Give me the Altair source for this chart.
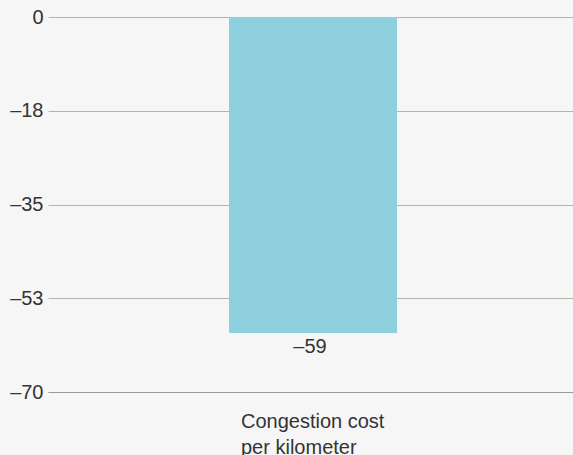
import altair as alt
import pandas as pd

# Chart data
categories = ["Congestion cost\nper kilometer"]
values = [-59]
tick_values = [0, -17.5, -35, -52.5, -70]

df = pd.DataFrame({"category": categories, "value": values})

FONT = "Liberation Sans"
BAR_COLOR = "#8fd0de"
TEXT_COLOR = "#333333"

x_enc = alt.X(
    "category:N",
    title=None,
    scale=alt.Scale(paddingInner=0.0588, paddingOuter=1, align=0.507),
    axis=alt.Axis(
        labelAngle=0,
        labelAlign="left",
        labelBaseline="top",
        labelOffset=-72,
        labelPadding=19,
        labelLineHeight=26,
        labelFontSize=20,
        labelFont=FONT,
        labelColor=TEXT_COLOR,
        labelExpr="split(datum.label, '\\n')",
        ticks=False,
        domain=True,
        domainColor="#9a9a96",
        domainWidth=1,
        grid=False,
    ),
)

y_scale = alt.Scale(domain=[-70, 0], nice=False, zero=True)

bars = alt.Chart(df).mark_bar(color=BAR_COLOR).encode(
    x=x_enc,
    y=alt.Y(
        "value:Q",
        title=None,
        scale=y_scale,
        axis=alt.Axis(
            values=tick_values,
            labelExpr="datum.value == 0 ? '0' : '–' + round(abs(datum.value))",
            labelFontSize=20,
            labelFont=FONT,
            labelColor=TEXT_COLOR,
            labelPadding=5,
            ticks=False,
            domain=False,
            grid=True,
            gridColor="#b4b4ae",
            gridWidth=1,
        ),
    ),
    y2=alt.datum(0),
)

labels = alt.Chart(df).transform_calculate(
    label="datum.value < 0 ? '–' + abs(datum.value) : '' + datum.value"
).mark_text(
    baseline="alphabetic",
    align="center",
    dy=20,
    dx=-3,
    fontSize=20,
    font=FONT,
    color=TEXT_COLOR,
).encode(
    x=alt.X("category:N"),
    y=alt.Y("value:Q", scale=y_scale),
    text="label:N",
)

chart = (
    alt.layer(bars, labels)
    .properties(
        width=525,
        height=375,
        background="#f6f6f6",
        padding={"left": 48, "top": 17, "right": 0, "bottom": 63},
        autosize=alt.AutoSizeParams(type="none"),
    )
    .configure_view(stroke=None)
)

chart.save("out.html", embed_options={"renderer": "svg", "actions": False})
